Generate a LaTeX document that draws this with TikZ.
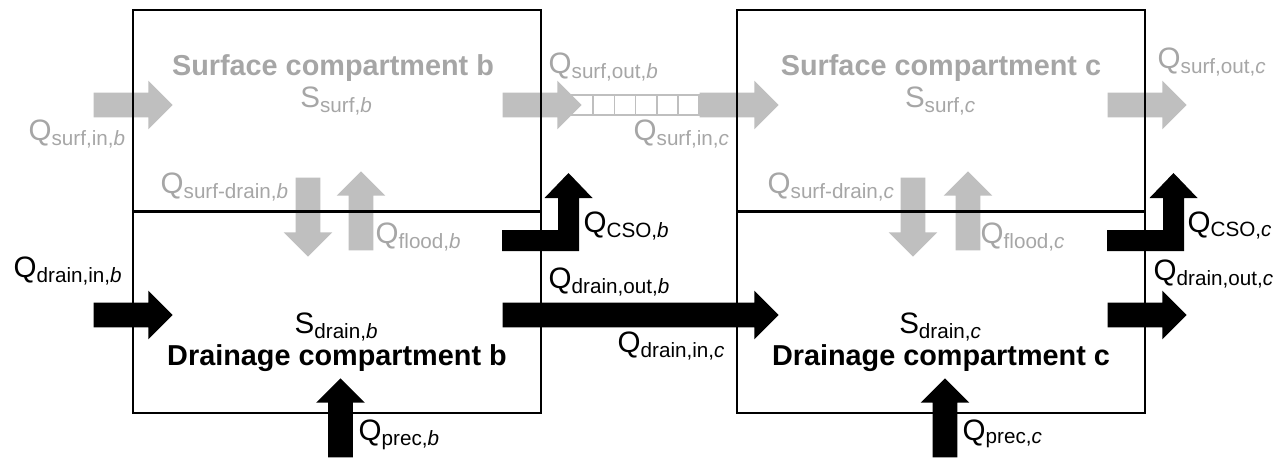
\documentclass[tikz,border=0pt]{standalone}
\usepackage{fontspec}
\setmainfont{Liberation Sans}
\usetikzlibrary{shapes.arrows}

\definecolor{surfgray}{HTML}{A6A6A6}
\definecolor{arrowgray}{HTML}{BFBFBF}

% flow and storage symbols
\newcommand{\Qf}[2]{Q\textsubscript{#1\textit{#2}}}
\newcommand{\Sf}[2]{S\textsubscript{#1\textit{#2}}}

\begin{document}
\begin{tikzpicture}[
    lbl/.style={inner sep=0pt, anchor=base west, font=\fontsize{8.4}{10}\selectfont},
    compname/.style={inner sep=0pt, anchor=base, font=\fontsize{8.2}{10}\selectfont\bfseries},
    fat/.style={single arrow, draw=none, inner xsep=0pt, inner ysep=0.117cm,
      single arrow head extend=0.12cm, minimum height=0.79cm, anchor=tail},
    comp/.style={draw, line width=0.6pt, minimum width=4.08cm, minimum height=4.03cm, inner sep=0pt},
    cso/.pic={
      \fill (0,0) -- (0.77,0) -- (0.77,0.53) -- (0.905,0.53) -- (0.665,0.78)
        -- (0.425,0.53) -- (0.56,0.53) -- (0.56,0.21) -- (0,0.21) -- cycle;
    },
  ]
  \useasboundingbox (0,0) rectangle (12.79,4.58);

  % pipe between the surfaces
  \foreach \i in {0,...,5}
    \draw[arrowgray, fill=white, line width=0.5pt] (5.72+0.212*\i,3.43) rectangle ++(0.212,0.20);

  % surface flows
  \node (surfinb) [fat, fill=arrowgray] at (0.93,3.53) {};
  \node (surfoutb) [fat, fill=arrowgray] at (5.02,3.53) {};
  \node (surfinc) [fat, fill=arrowgray] at (6.99,3.53) {};
  \node (surfoutc) [fat, fill=arrowgray] at (11.07,3.53) {};

  % drainage flows
  \node (draininb) [fat, fill=black] at (0.93,1.43) {};
  \node (drainoutb) [fat, fill=black, minimum height=2.76cm] at (5.02,1.43) {};
  \node (drainoutc) [fat, fill=black] at (11.07,1.43) {};

  % exchange between surface and drainage
  \node (sdb) [fat, fill=arrowgray, rotate=-90] at (3.08,2.81) {};
  \node (floodb) [fat, fill=arrowgray, rotate=90] at (3.61,2.07) {};
  \node (sdc) [fat, fill=arrowgray, rotate=-90] at (9.13,2.81) {};
  \node (floodc) [fat, fill=arrowgray, rotate=90] at (9.68,2.07) {};

  % precipitation
  \node (precb) [fat, fill=black, rotate=90] at (3.405,0) {};
  \node (precc) [fat, fill=black, rotate=90] at (9.45,0) {};

  % overflows
  \pic (csob) at (5.02,2.07) {cso};
  \pic (csoc) at (11.07,2.07) {cso};

  % compartments
  \node (boxb) [comp] at (3.37,2.465) {};
  \node (boxc) [comp] at (9.41,2.465) {};
  \draw[line width=0.6pt] (boxb.west) -- (boxb.east);
  \draw[line width=0.6pt] (boxc.west) -- (boxc.east);

  % compartment b
  \node (surfb) [compname, text=surfgray] at (3.33,3.83) {Surface compartment b};
  \node (ssurfb) [lbl, anchor=base, text=surfgray] at (3.37,3.51) {\Sf{surf,}{b}};
  \node (drainb) [compname] at (3.37,0.93) {Drainage compartment b};
  \node (sdrainb) [lbl, anchor=base] at (3.37,1.25) {\Sf{drain,}{b}};
  \node (qsurfinb) [lbl, text=surfgray] at (0.28,3.18) {\Qf{surf,in,}{b}};
  \node (qsdb) [lbl, text=surfgray] at (1.60,2.65) {\Qf{surf-drain,}{b}};
  \node (qfloodb) [lbl, text=surfgray] at (3.75,2.15) {\Qf{flood,}{b}};
  \node (qsurfoutb) [lbl, text=surfgray] at (5.48,3.85) {\Qf{surf,out,}{b}};
  \node (qcsob) [lbl] at (5.83,2.26) {\Qf{CSO,}{b}};
  \node (qdraininb) [lbl] at (0.13,1.81) {\Qf{drain,in,}{b}};
  \node (qdrainoutb) [lbl] at (5.48,1.70) {\Qf{drain,out,}{b}};
  \node (qprecb) [lbl] at (3.58,0.18) {\Qf{prec,}{b}};

  % compartment c
  \node (surfc) [compname, text=surfgray] at (9.41,3.83) {Surface compartment c};
  \node (ssurfc) [lbl, anchor=base, text=surfgray] at (9.41,3.51) {\Sf{surf,}{c}};
  \node (drainc) [compname] at (9.41,0.93) {Drainage compartment c};
  \node (sdrainc) [lbl, anchor=base] at (9.41,1.25) {\Sf{drain,}{c}};
  \node (qsurfinc) [lbl, text=surfgray] at (6.33,3.18) {\Qf{surf,in,}{c}};
  \node (qsdc) [lbl, text=surfgray] at (7.67,2.65) {\Qf{surf-drain,}{c}};
  \node (qfloodc) [lbl, text=surfgray] at (9.80,2.15) {\Qf{flood,}{c}};
  \node (qsurfoutc) [lbl, text=surfgray] at (11.57,3.90) {\Qf{surf,out,}{c}};
  \node (qcsoc) [lbl] at (11.87,2.26) {\Qf{CSO,}{c}};
  \node (qdraininc) [lbl] at (6.17,1.06) {\Qf{drain,in,}{c}};
  \node (qdrainoutc) [lbl] at (11.53,1.78) {\Qf{drain,out,}{c}};
  \node (qprecc) [lbl] at (9.62,0.18) {\Qf{prec,}{c}};
\end{tikzpicture}
\end{document}
